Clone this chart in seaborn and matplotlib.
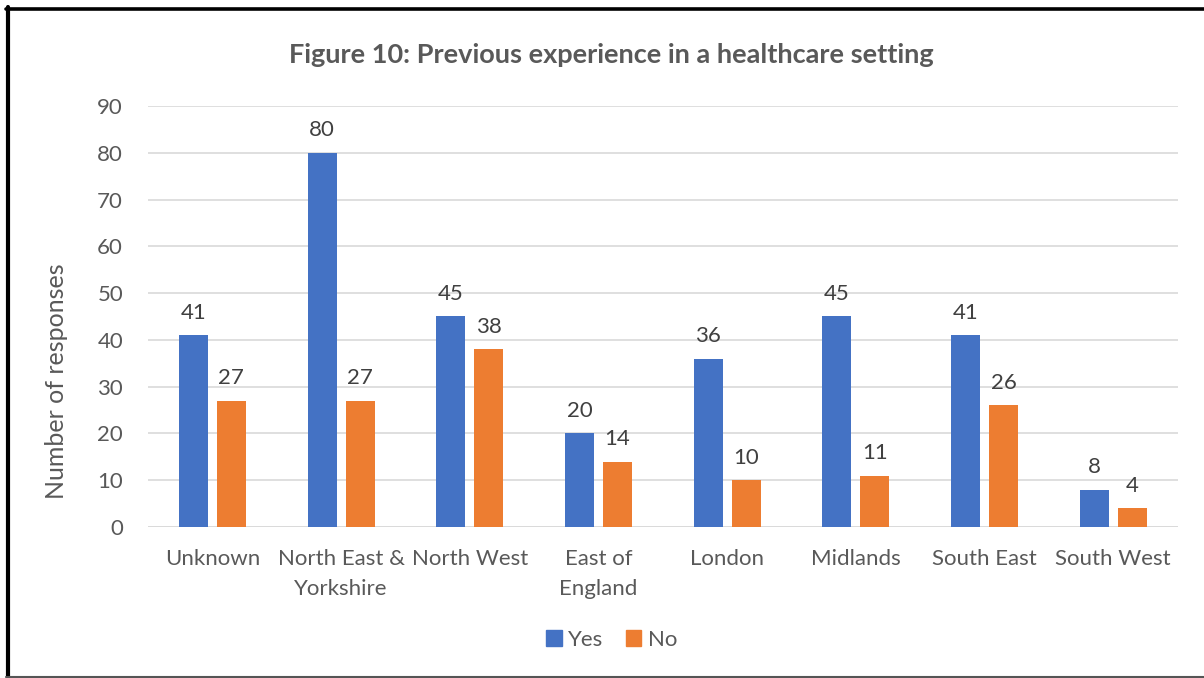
import matplotlib
matplotlib.use("Agg")
import matplotlib.pyplot as plt
import seaborn as sns
import pandas as pd
from matplotlib.patches import Patch
from matplotlib.lines import Line2D

categories = ["Unknown", "North East &\nYorkshire", "North West", "East of\nEngland",
              "London", "Midlands", "South East", "South West"]
yes_values = [41, 80, 45, 20, 36, 45, 41, 8]
no_values = [27, 27, 38, 14, 10, 11, 26, 4]
series = ["Yes", "No"]
colors = ["#4472C4", "#ED7D31"]

df = pd.DataFrame({
    "Region": categories * 2,
    "Value": yes_values + no_values,
    "Series": ["Yes"] * len(categories) + ["No"] * len(categories),
})

sns.set_theme(style="white")
plt.rcParams['font.family'] = ['Lato', 'DejaVu Sans']

fig = plt.figure(figsize=(12.04, 6.78), dpi=100)
ax = fig.add_axes([0.123, 0.2227, 0.855, 0.621])

sns.barplot(data=df, x="Region", y="Value", hue="Series", hue_order=series,
            palette=colors, width=0.59, gap=0.237, ax=ax, legend=False,
            saturation=1, errorbar=None, linewidth=0)

ax.set_ylim(0, 90)
ax.set_xlim(-0.5, 7.5)
ax.set_yticks(range(0, 91, 10))
ax.yaxis.grid(True, color="#D9D9D9", linewidth=1.2)
ax.set_axisbelow(True)
for s in ax.spines.values():
    s.set_visible(False)
ax.axhline(0, color="#D9D9D9", linewidth=1.2, zorder=0)
ax.tick_params(axis="both", length=0, labelsize=16, labelcolor="#595959")
ax.tick_params(axis="x", pad=15.5)
ax.tick_params(axis="y", pad=18)
for lbl in ax.get_xticklabels():
    lbl.set_linespacing(1.65)
ax.set_xlabel("")
ax.set_ylabel("Number of responses", fontsize=18, color="#595959", labelpad=20)
ax.yaxis.set_label_coords(-0.078, 0.347)

for cont in ax.containers:
    ax.bar_label(cont, padding=9, fontsize=16, color="#404040")

fig.text(0.508, 0.919, "Figure 10: Previous experience in a healthcare setting",
         ha="center", va="center", fontsize=19.5, fontweight="bold", color="#595959")

handles = [Patch(facecolor=c, edgecolor=c) for c in colors]
fig.legend(handles, series, loc="center", bbox_to_anchor=(0.508, 0.056), ncol=2,
           frameon=False, fontsize=16, handlelength=0.7, handleheight=0.7,
           columnspacing=1.0, handletextpad=0.3, labelcolor="#595959")

# outer frame: thick black top and left, thin grey bottom
fig.add_artist(Line2D([6 / 1204, 1.0], [1 - 8.5 / 678, 1 - 8.5 / 678],
                      transform=fig.transFigure, color="black", linewidth=2.6))
fig.add_artist(Line2D([8 / 1204, 8 / 1204], [1 - 7 / 678, 0],
                      transform=fig.transFigure, color="black", linewidth=3.0))
fig.add_artist(Line2D([6 / 1204, 1.0], [1.5 / 678, 1.5 / 678],
                      transform=fig.transFigure, color="#555555", linewidth=1.5))

fig.savefig("out.png", dpi=100)
